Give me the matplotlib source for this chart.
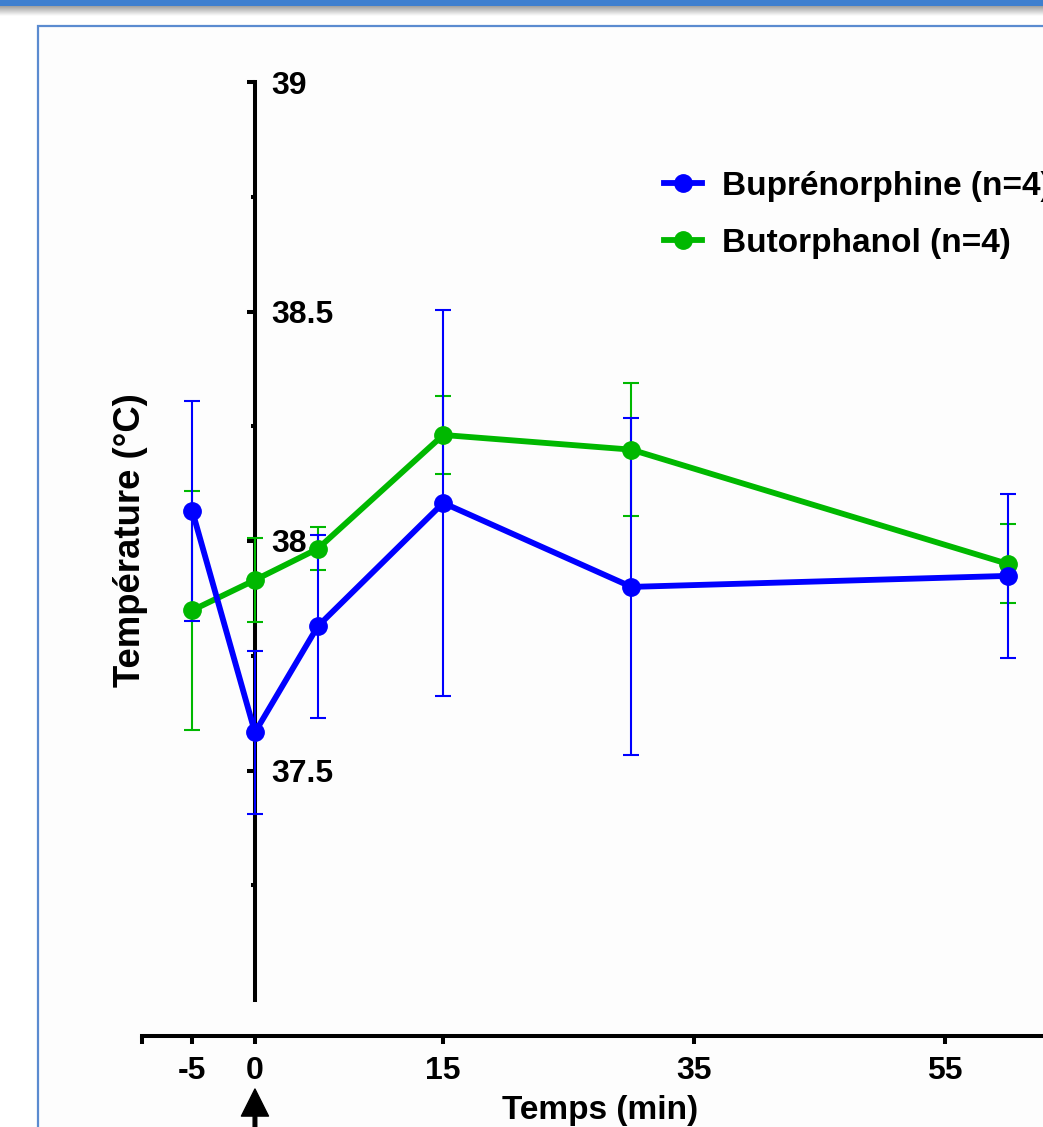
import numpy as np
import matplotlib
matplotlib.use("Agg")
import matplotlib.pyplot as plt
from matplotlib.patches import Rectangle
from matplotlib.lines import Line2D
from matplotlib import transforms

plt.rcParams['font.family'] = ['Liberation Sans', 'DejaVu Sans']
plt.rcParams['font.weight'] = 'bold'

# données (moyenne ± erreur)
temps = [-5, 0, 5, 15, 30, 60]
bup_moy = [38.066, 37.583, 37.814, 38.083, 37.900, 37.924]
bup_err = [0.24, 0.177, 0.20, 0.42, 0.367, 0.179]
but_moy = [37.849, 37.915, 37.983, 38.231, 38.199, 37.950]
but_err = [0.26, 0.092, 0.047, 0.085, 0.145, 0.086]

x_ticks = [-9, -5, 0, 15, 35, 55]
x_labels = ['', '-5', '0', '15', '35', '55']
y_ticks = [37.5, 38.0, 38.5, 39.0]
y_labels = ['37.5', '38', '38.5', '39']
y_minor = [37.25, 37.75, 38.25, 38.75]

BLEU = '#0000FF'
VERT = '#00B800'

W, H = 1043, 1127
fig = plt.figure(figsize=(W / 100, H / 100), dpi=100)
fig.patch.set_facecolor('white')

# décor de la diapositive : barre bleue, ombre, cadre
fig.patches.append(Rectangle((0, 1 - 6 / H), 1, 6 / H, transform=fig.transFigure,
                             facecolor='#3f7fcf', edgecolor='none', zorder=-2))
grad_ax = fig.add_axes([0, 1 - 16 / H, 1, 10 / H], zorder=-2)
grad = np.linspace(0.62, 1.0, 64).reshape(-1, 1)
grad_ax.imshow(grad, aspect='auto', cmap='gray', vmin=0, vmax=1, extent=[0, 1, 0, 1])
grad_ax.set_axis_off()
fig.patches.append(Rectangle((38 / W, -0.1), 1.2, 1 - 26 / H + 0.1, transform=fig.transFigure,
                             facecolor='#fdfdfd', edgecolor='#5b8bd0', linewidth=1.6, zorder=-1))

# axes
px_per_min = 12.55
x0_px = 142
ax = fig.add_axes([x0_px / W, 1 - 1000 / H, (W - x0_px) / W, (1000 - 82) / H])
ax.set_facecolor('none')
ax.set_xlim(-9, (W - 255) / px_per_min)
ax.set_ylim(37.0, 39.0)

for s in ['top', 'right']:
    ax.spines[s].set_visible(False)
ax.spines['left'].set_position(('data', 0))
ax.spines['bottom'].set_position(('outward', 26))
for s in ['left', 'bottom']:
    ax.spines[s].set_linewidth(2.9)
    ax.spines[s].set_zorder(1)

ax.set_xticks(x_ticks)
ax.set_xticklabels(x_labels, fontsize=23, fontweight='bold')
ax.tick_params(axis='x', direction='out', length=6, width=2.9, pad=8)

ax.set_yticks(y_ticks)
ax.set_yticklabels(y_labels, fontsize=23, fontweight='bold')
ax.set_yticks(y_minor, minor=True)
ax.tick_params(axis='y', which='major', direction='out', length=6, width=2.9, pad=-18)
ax.tick_params(axis='y', which='minor', direction='out', length=3, width=2.9)
for lbl in ax.get_yticklabels():
    lbl.set_horizontalalignment('left')

# barres d'erreur puis courbes
ax.errorbar(temps, but_moy, yerr=but_err, fmt='none', ecolor=VERT, elinewidth=1.5,
            capsize=6, capthick=1.5, zorder=3, clip_on=False)
ax.errorbar(temps, bup_moy, yerr=bup_err, fmt='none', ecolor=BLEU, elinewidth=1.5,
            capsize=6, capthick=1.5, zorder=3.1, clip_on=False)
ax.plot(temps, but_moy, color=VERT, lw=4.2, marker='o', ms=12.5, zorder=4, clip_on=False)
ax.plot(temps, bup_moy, color=BLEU, lw=4.2, marker='o', ms=12.5, zorder=5, clip_on=False)

handles = [Line2D([], [], color=BLEU, lw=4.2, marker='o', ms=12.5),
           Line2D([], [], color=VERT, lw=4.2, marker='o', ms=12.5)]
fig.legend(handles, ['Buprénorphine (n=4)', 'Butorphanol (n=4)'],
           loc='upper left', bbox_to_anchor=(664 / W, 1 - 171 / H),
           frameon=False, handlelength=1.15, handletextpad=0.6,
           labelspacing=0.78, borderpad=0, borderaxespad=0,
           prop={'weight': 'bold', 'size': 24})

fig.text(131 / W, 1 - 540 / H, 'Température (°C)', rotation=90, ha='center', va='center',
         fontsize=26.3, fontweight='bold')
fig.text(600 / W, 1 - 1111 / H, 'Temps (min)', ha='center', va='center',
         fontsize=24, fontweight='bold')

# flèche d'injection au temps 0
tr = transforms.blended_transform_factory(ax.transData, fig.transFigure)
ax.annotate('', xy=(0, 1 - 1089 / H), xycoords=tr, xytext=(0, -0.02), textcoords=tr,
            arrowprops=dict(facecolor='black', edgecolor='black', width=2.6,
                            headwidth=19.5, headlength=19.5, shrink=0),
            annotation_clip=False)

fig.savefig('out.png', dpi=100)
